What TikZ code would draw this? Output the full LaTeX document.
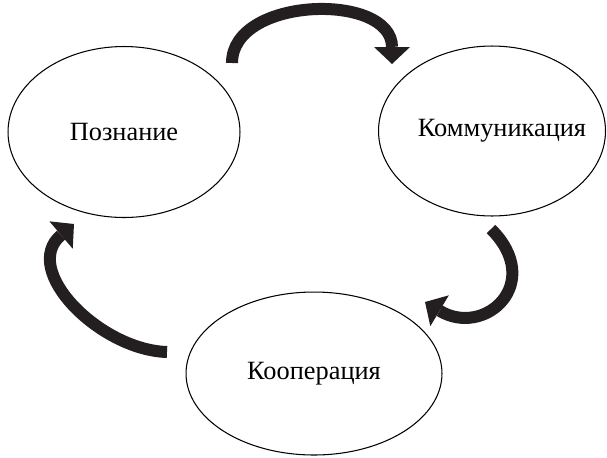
\documentclass[tikz,border=0pt]{standalone}
\usepackage{fontspec}
\setmainfont{Liberation Serif}
\usetikzlibrary{shapes.geometric,arrows.meta}
\definecolor{arrowdark}{RGB}{35,31,32}
\tikzset{
  stage/.style={draw, ellipse, line width=0.6pt, inner sep=0pt, font=\fontsize{15}{18}\selectfont},
  cycle arrow/.style={arrowdark, line width=0.24cm, -{Triangle[width=0.72cm, length=0.34cm, line width=0pt]}}
}
\begin{document}
\begin{tikzpicture}[x=0.02cm, y=-0.02cm]

    % Frame: same proportions as the reference
    \useasboundingbox (0,0) rectangle (607,457);

    % Three stages of the cycle
    \node[stage, minimum width=4.64cm, minimum height=3.42cm] (cog) at (124,132) {Познание};
    \node[stage, minimum width=4.54cm, minimum height=3.40cm] (comm) at (492,131) {\hspace*{0.4cm}\makebox[0pt]{Коммуникация}};
    \node[stage, minimum width=5.12cm, minimum height=3.26cm] (coop) at (314,373.5) {Кооперация};

    % Ends of the curved arrows
    \coordinate (cogout) at (232,63);
    \coordinate (commin) at (392,64);
    \coordinate (commout) at (491,229);
    \coordinate (coopin) at (425,302);
    \coordinate (coopout) at (167,352);
    \coordinate (cogin) at (74,224);

    % Curved arrows going round
    \draw[cycle arrow] (cogout) .. controls (232,-4) and (392,-8) .. (commin);
    \draw[cycle arrow] (commout) .. controls (545,283) and (485,338) .. (coopin);
    \draw[cycle arrow] (coopout) .. controls (100,350) and (20,270) .. (cogin);

\end{tikzpicture}
\end{document}
